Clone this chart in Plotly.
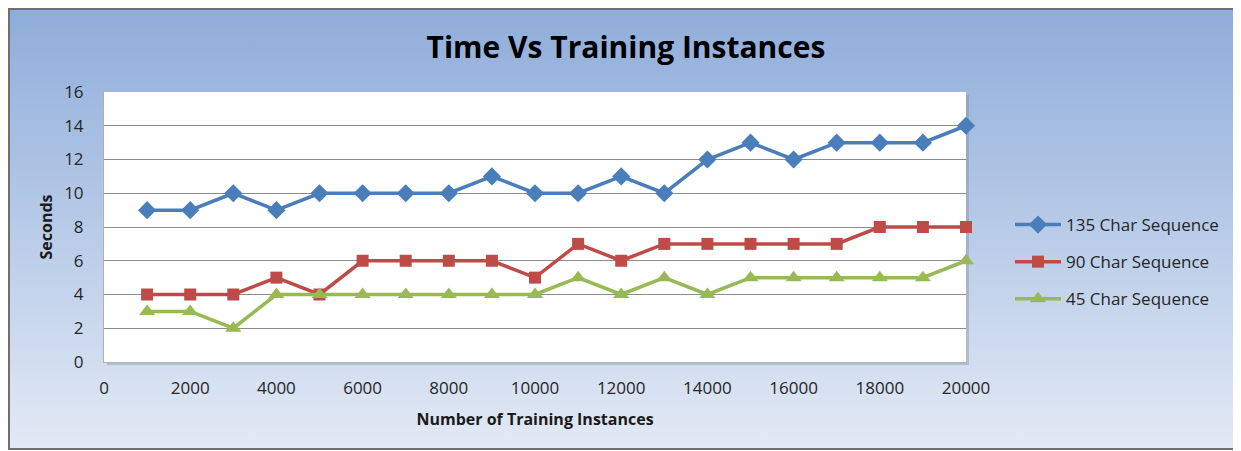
import base64
import plotly.graph_objects as go

# training set sizes
instances = [1000, 2000, 3000, 4000, 5000, 6000, 7000, 8000, 9000, 10000,
             11000, 12000, 13000, 14000, 15000, 16000, 17000, 18000, 19000, 20000]

# seconds per sequence length
seq_135 = [9, 9, 10, 9, 10, 10, 10, 10, 11, 10, 10, 11, 10, 12, 13, 12, 13, 13, 13, 14]
seq_90 = [4, 4, 4, 5, 4, 6, 6, 6, 6, 5, 7, 6, 7, 7, 7, 7, 7, 8, 8, 8]
seq_45 = [3, 3, 2, 4, 4, 4, 4, 4, 4, 4, 5, 4, 5, 4, 5, 5, 5, 5, 5, 6]

series_names = ["135 Char Sequence", "90 Char Sequence", "45 Char Sequence"]
x_ticks = [0, 2000, 4000, 6000, 8000, 10000, 12000, 14000, 16000, 18000, 20000]
y_ticks = [0, 2, 4, 6, 8, 10, 12, 14, 16]

FONT = "Open Sans"

# excel-style blue gradient for the chart area
svg = ('<svg xmlns="http://www.w3.org/2000/svg" viewBox="0 0 100 100" '
       'preserveAspectRatio="none" width="100" height="100">'
       '<defs><linearGradient id="g" x1="0" y1="0" x2="0" y2="1">'
       '<stop offset="0" stop-color="#8fadda"/>'
       '<stop offset="0.55" stop-color="#bccee9"/>'
       '<stop offset="1" stop-color="#e3eaf5"/>'
       '</linearGradient></defs>'
       '<rect width="100" height="100" fill="url(#g)"/></svg>')
bg_src = "data:image/svg+xml;base64," + base64.b64encode(svg.encode()).decode()

# page body has an 8px margin, so figure coords = screen coords - 8
OFF = 8
W, H = 1241 - OFF, 451 - OFF
L, R, T, B = 104 - OFF, 966 - OFF, 92 - OFF, 362 - OFF
pw, ph = R - L, B - T


def px_x(p):
    # screen pixel -> paper x
    return (p - OFF - L) / pw


def px_y(p):
    # screen pixel -> paper y
    return (B - (p - OFF)) / ph


fig = go.Figure()

styles = [
    (seq_135, "#4a7ebb", "diamond", 14),
    (seq_90, "#be4b48", "square", 12),
    (seq_45, "#98b954", "triangle-up", 14),
]
for i, (vals, col, sym, sz) in enumerate(styles):
    fig.add_trace(go.Scatter(
        x=instances, y=vals, name=series_names[i],
        mode="lines+markers", legendgroup=str(i),
        line=dict(color=col, width=3.5),
        marker=dict(symbol=sym, size=sz, color=col),
        cliponaxis=False,
    ))

fig.update_layout(
    width=W, height=H,
    margin=dict(l=L, r=W - R, t=T, b=H - B),
    paper_bgcolor="white",
    plot_bgcolor="rgba(0,0,0,0)",
    font=dict(family=FONT, size=17, color="#262626"),
    title=dict(text="<b>Time Vs Training Instances</b>",
               font=dict(family=FONT, size=30, color="black"),
               xref="container", x=(626 - OFF) / W, xanchor="center",
               yref="container", y=1 - (47 - OFF) / H, yanchor="middle"),
    showlegend=True,
    legend=dict(x=px_x(1010), xanchor="left", y=px_y(207), yanchor="top",
                bgcolor="rgba(0,0,0,0)", font=dict(size=17, color="#262626"),
                tracegroupgap=12, itemwidth=46),
    images=[dict(source=bg_src, xref="paper", yref="paper",
                 x=px_x(9), y=px_y(9), sizex=px_x(1235) - px_x(9),
                 sizey=px_y(9) - px_y(450), sizing="stretch", layer="below")],
    shapes=[
        # plot area shadow + white fill
        dict(type="rect", xref="paper", yref="paper", layer="below",
             x0=px_x(104 + 3), x1=px_x(966 + 3), y0=px_y(362 + 3), y1=px_y(92 + 3),
             fillcolor="rgba(120,130,150,0.35)", line_width=0),
        dict(type="rect", xref="paper", yref="paper", layer="below",
             x0=0, x1=1, y0=0, y1=1, fillcolor="white", line_width=0),
        # outer chart frame
        dict(type="rect", xref="paper", yref="paper", layer="above",
             x0=px_x(9), x1=px_x(1235), y0=px_y(449), y1=px_y(9),
             line=dict(color="#6f6f6f", width=2)),
    ],
)

fig.update_xaxes(
    range=[0, 20000], tickvals=x_ticks, tickformat="d",
    showgrid=False, zeroline=False,
    showline=True, linecolor="#b0b0b0", linewidth=1,
    ticks="", ticklabelstandoff=11,
    title=dict(text="<b>Number of Training Instances</b>",
               font=dict(size=16, color="#1a1a1a"), standoff=15),
)
fig.update_yaxes(
    range=[0, 16], tickvals=y_ticks, showgrid=True, gridcolor="#8c8c8c",
    gridwidth=1, zeroline=False, showline=True, linecolor="#b0b0b0",
    linewidth=1, ticks="", ticklabelstandoff=16,
    title=dict(text="<b>Seconds</b>", font=dict(size=16, color="#1a1a1a"),
               standoff=7),
)

fig.write_html("out.html")
